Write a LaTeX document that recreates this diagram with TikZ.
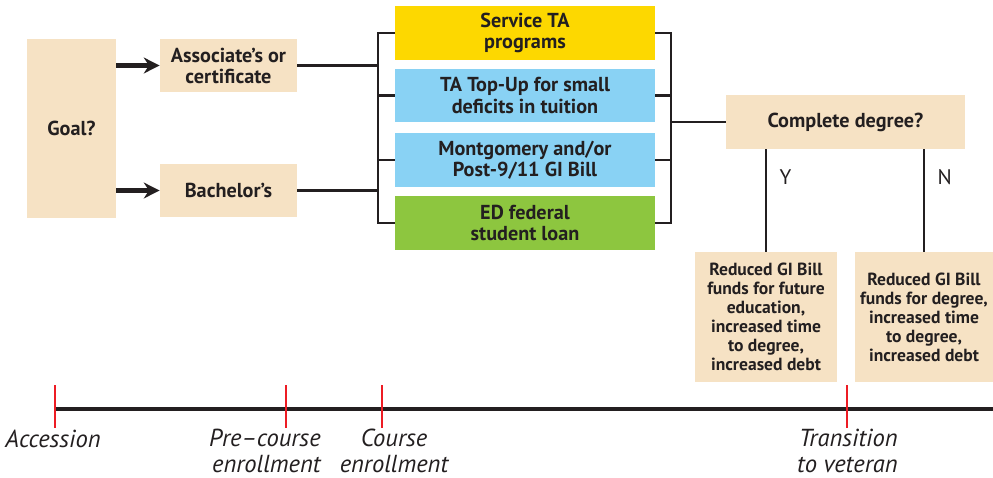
\documentclass[tikz,border=0pt]{standalone}
\usepackage{fontspec}
\setmainfont{PT Sans}
\newfontfamily\tlfont{PT Sans}
\usetikzlibrary{arrows.meta}
\definecolor{ink}{HTML}{231F20}
\definecolor{boxtan}{HTML}{F6E2C4}
\definecolor{svcyellow}{HTML}{FDD800}
\definecolor{aidblue}{HTML}{89D2F4}
\definecolor{loangreen}{HTML}{8DC63F}
\definecolor{tickred}{HTML}{ED1C24}

\begin{document}
\begin{tikzpicture}[x=0.02cm,y=-0.02cm,
    every node/.style={font=\bfseries\fontsize{11.5}{12}\selectfont, text=ink, align=center, inner sep=0pt},
    sz/.style 2 args={minimum width=#1*0.02cm, minimum height=#2*0.02cm},
    tanbox/.style={fill=boxtan},
    link/.style={draw=ink, line width=1.4pt},
    fat/.style={draw=ink, line width=2.4pt, -{Stealth[length=9pt,width=9pt]}},
    small/.style={font=\bfseries\fontsize{10}{10.8}\selectfont},
    yn/.style={font=\mdseries\fontsize{12}{14}\selectfont},
    tl/.style={font=\tlfont\itshape\fontsize{14}{14.7}\selectfont}]
  \useasboundingbox (0,0) rectangle (993,477);

  % goal and degree type
  \node[tanbox, sz={89}{179}] (goal) at (71.5,128.5) {Goal?};
  \node[tanbox, sz={137}{53}] (assoc) at (228.5,65.5) {Associate’s or\\certificate};
  \node[tanbox, sz={137}{53}] (bach) at (228.5,190.5) {Bachelor’s};
  \draw[fat] (goal.east |- assoc.west) -- (assoc.west);
  \draw[fat] (goal.east |- bach.west) -- (bach.west);

  % funding sources
  \node[fill=svcyellow, sz={260}{54}] (svc) at (525,33) {Service TA\\programs};
  \node[fill=aidblue, sz={260}{53}] (topup) at (525,95.5) {TA Top-Up for small\\deficits in tuition};
  \node[fill=aidblue, sz={260}{54}] (gibill) at (525,160) {Montgomery and/or\\Post-9/11 GI Bill};
  \node[fill=loangreen, sz={260}{54}] (loan) at (525,223) {ED federal\\student loan};

  \coordinate (lb) at (378,0);
  \coordinate (rb) at (671,0);
  \draw[link] (svc.west) -- (svc.west -| lb) -- (loan.west -| lb) -- (loan.west);
  \draw[link] (svc.east) -- (svc.east -| rb) -- (loan.east -| rb) -- (loan.east);
  \foreach \n in {topup,gibill} {
    \draw[link] (\n.west) -- (\n.west -| lb);
    \draw[link] (\n.east) -- (\n.east -| rb);
  }
  \draw[link] (assoc.east) -- (assoc.east -| lb);
  \draw[link] (bach.east) -- (bach.east -| lb);

  % outcome
  \node[tanbox, sz={239}{54}] (deg) at (845.5,122) {Complete degree?};
  \draw[link] (deg.west) -- (deg.west -| rb);
  \node[tanbox, small, sz={142}{130}] (yes) at (766,317) {Reduced GI Bill\\funds for future\\education,\\increased time\\to degree,\\increased debt};
  \node[tanbox, small, sz={138}{130}] (no) at (924,317) {Reduced GI Bill\\funds for degree,\\increased time\\to degree,\\increased debt};
  \draw[link] (yes.north |- deg.south) -- (yes.north) node[yn, pos=0.27, right=7pt] {Y};
  \draw[link] (no.north |- deg.south) -- (no.north) node[yn, pos=0.27, right=7pt] {N};

  % timeline
  \coordinate (tstart) at (55,409);
  \coordinate (tend) at (993,409);
  \draw[ink, line width=2.4pt] (tstart) -- (tend);
  \foreach \x in {55,286,382,847}
    \draw[tickred, line width=1.5pt] (\x,385) -- (\x,428);
  \node[tl] (acc) at (53,439) {Accession};
  \node[tl, anchor=east, align=right] (pre) at (321,451) {Pre–course\\enrollment};
  \node[tl] (crs) at (394,451) {Course\\enrollment};
  \node[tl, anchor=east, align=right] (vet) at (898,451) {Transition\\to veteran};
\end{tikzpicture}
\end{document}
